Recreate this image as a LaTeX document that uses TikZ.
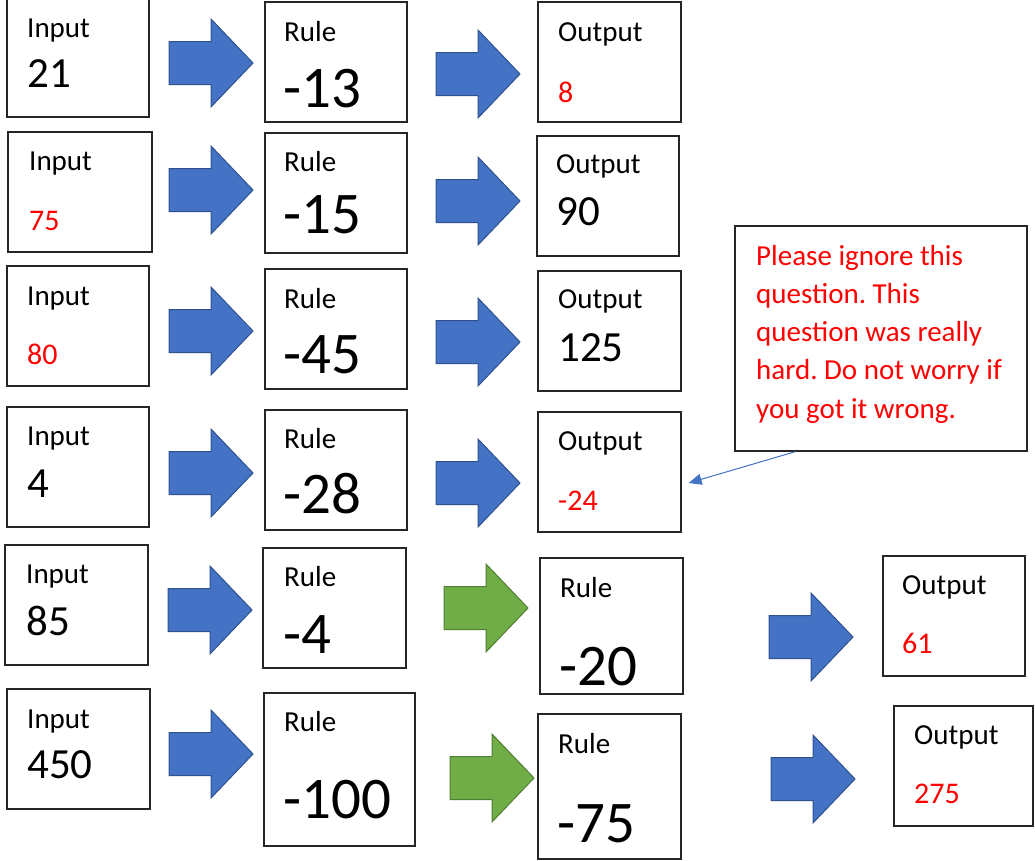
\documentclass[tikz,border=0pt]{standalone}
\usepackage{fontspec}
\setmainfont{Carlito}
\usetikzlibrary{fit,arrows.meta}
\definecolor{abl}{HTML}{4472C4}
\definecolor{ablb}{HTML}{2F528F}
\definecolor{agr}{HTML}{70AD47}
\definecolor{agrb}{HTML}{507E32}
\definecolor{ared}{HTML}{FF0000}
\frenchspacing
\tikzset{
 box/.style={draw=black!85, line width=1.3pt, inner sep=0pt},
 lbl/.style={anchor=base west, inner sep=0pt, font=\fontsize{29}{34}\selectfont},
 num/.style={anchor=base west, inner sep=0pt, font=\fontsize{43}{50}\selectfont},
 big/.style={anchor=base west, inner sep=0pt, font=\fontsize{59}{70}\selectfont},
 val/.style={anchor=base west, inner sep=0pt, text=ared, font=\fontsize{30}{36}\selectfont},
 bluearr/.style={fill=abl, draw=ablb, line width=1pt},
 greenarr/.style={fill=agr, draw=agrb, line width=1pt},
 pics/blockarrow/.style={code={\draw[#1] (-84,-21.5) -- (-42,-21.5) -- (-42,-44) -- (0,0) -- (-42,44) -- (-42,21.5) -- (-84,21.5) -- cycle;}},
 conn/.style={draw=abl, line width=1pt, -{Triangle[length=13pt,width=11pt]}},
}
\begin{document}
\begin{tikzpicture}[x=1pt,y=-1pt]
\useasboundingbox (0,0) rectangle (1035,860);
% boxes
\node[box, fit={(7,-3) (149,117)}] (in1) {};
\node[box, fit={(265,2) (407,122)}] (ru1) {};
\node[box, fit={(538,2) (681,122)}] (out1) {};
\node[box, fit={(8,132) (152,252)}] (in2) {};
\node[box, fit={(265,133) (407,253)}] (ru2) {};
\node[box, fit={(537,136) (679,256)}] (out2) {};
\node[box, fit={(7,266) (149,386)}] (in3) {};
\node[box, fit={(265,269) (407,389)}] (ru3) {};
\node[box, fit={(538,271) (681,391)}] (out3) {};
\node[box, fit={(7,407) (149,527)}] (in4) {};
\node[box, fit={(265,410) (407,530)}] (ru4) {};
\node[box, fit={(538,412) (681,532)}] (out4) {};
\node[box, fit={(5,545) (148,665)}] (in5) {};
\node[box, fit={(263,548) (406,668)}] (ru5) {};
\node[box, fit={(540,558) (683,694)}] (ru5b) {};
\node[box, fit={(883,556) (1025,676)}] (out5) {};
\node[box, fit={(7,689) (150,809)}] (in6) {};
\node[box, fit={(264,693) (415,846)}] (ru6) {};
\node[box, fit={(538,714) (681,859)}] (ru6b) {};
\node[box, fit={(894,706) (1033,826)}] (out6) {};
\node[box, fit={(735,226) (1027,451)}] (note) {};
% texts row 1
\node[lbl] (t1a) at (27,37) {Input};
\node[num] (t1b) at (27,87) {21};
\node[lbl] (t1c) at (284,41) {Rule};
\node[big] (t1d) at (283,107) {-13};
\node[lbl] (t1e) at (558,41) {Output};
\node[val] (t1f) at (558,102) {8};
% row 2
\node[lbl] (t2a) at (29,170) {Input};
\node[val] (t2b) at (29,230) {75};
\node[lbl] (t2c) at (284,171) {Rule};
\node[big] (t2d) at (283,233) {-15};
\node[lbl] (t2e) at (556,173) {Output};
\node[num] (t2f) at (556,225) {90};
% row 3
\node[lbl] (t3a) at (27,305) {Input};
\node[val] (t3b) at (27,364) {80};
\node[lbl] (t3c) at (284,308) {Rule};
\node[big] (t3d) at (283,373) {-45};
\node[lbl] (t3e) at (558,308) {Output};
\node[num] (t3f) at (558,361) {125};
% row 4
\node[lbl] (t4a) at (27,445) {Input};
\node[num] (t4b) at (27,497) {4};
\node[lbl] (t4c) at (284,448) {Rule};
\node[big] (t4d) at (283,513) {-28};
\node[lbl] (t4e) at (558,450) {Output};
\node[val] (t4f) at (558,510) {-24};
% row 5
\node[lbl] (t5a) at (26,583) {Input};
\node[num] (t5b) at (26,635) {85};
\node[lbl] (t5c) at (284,586) {Rule};
\node[big] (t5d) at (283,653) {-4};
\node[lbl] (t5e) at (560,597) {Rule};
\node[big] (t5f) at (559,685) {-20};
\node[lbl] (t5g) at (902,594) {Output};
\node[val] (t5h) at (902,653) {61};
% row 6
\node[lbl] (t6a) at (27,728) {Input};
\node[num] (t6b) at (27,778) {450};
\node[lbl] (t6c) at (284,731) {Rule};
\node[big] (t6d) at (283,818) {-100};
\node[lbl] (t6e) at (558,753) {Rule};
\node[big] (t6f) at (557,842) {-75};
\node[lbl] (t6g) at (914,744) {Output};
\node[val] (t6h) at (914,803) {275};
% note text
\node[anchor=base west, inner sep=0pt, text=ared, font=\fontsize{29}{34}\selectfont] (notetext) at (756,265)
 {\vtop{\baselineskip=38.3pt\hbox{Please ignore this}\hbox{question. This}\hbox{question was really}\hbox{hard. Do not worry if}\hbox{you got it wrong.}}};
% block arrows
\pic at (253,63) {blockarrow=bluearr};
\pic at (520,74) {blockarrow=bluearr};
\pic at (253,190) {blockarrow=bluearr};
\pic at (520,201) {blockarrow=bluearr};
\pic at (253,331) {blockarrow=bluearr};
\pic at (520,342) {blockarrow=bluearr};
\pic at (253,473) {blockarrow=bluearr};
\pic at (520,483) {blockarrow=bluearr};
\pic at (252,610) {blockarrow=bluearr};
\pic at (528,608) {blockarrow=greenarr};
\pic at (853,637) {blockarrow=bluearr};
\pic at (253,754) {blockarrow=bluearr};
\pic at (534,778) {blockarrow=greenarr};
\pic at (855,779) {blockarrow=bluearr};
% connector
\draw[conn] ([xshift=61pt]note.south west) -- ([shift={(7pt,-11pt)}]out4.east);
\end{tikzpicture}
\end{document}
